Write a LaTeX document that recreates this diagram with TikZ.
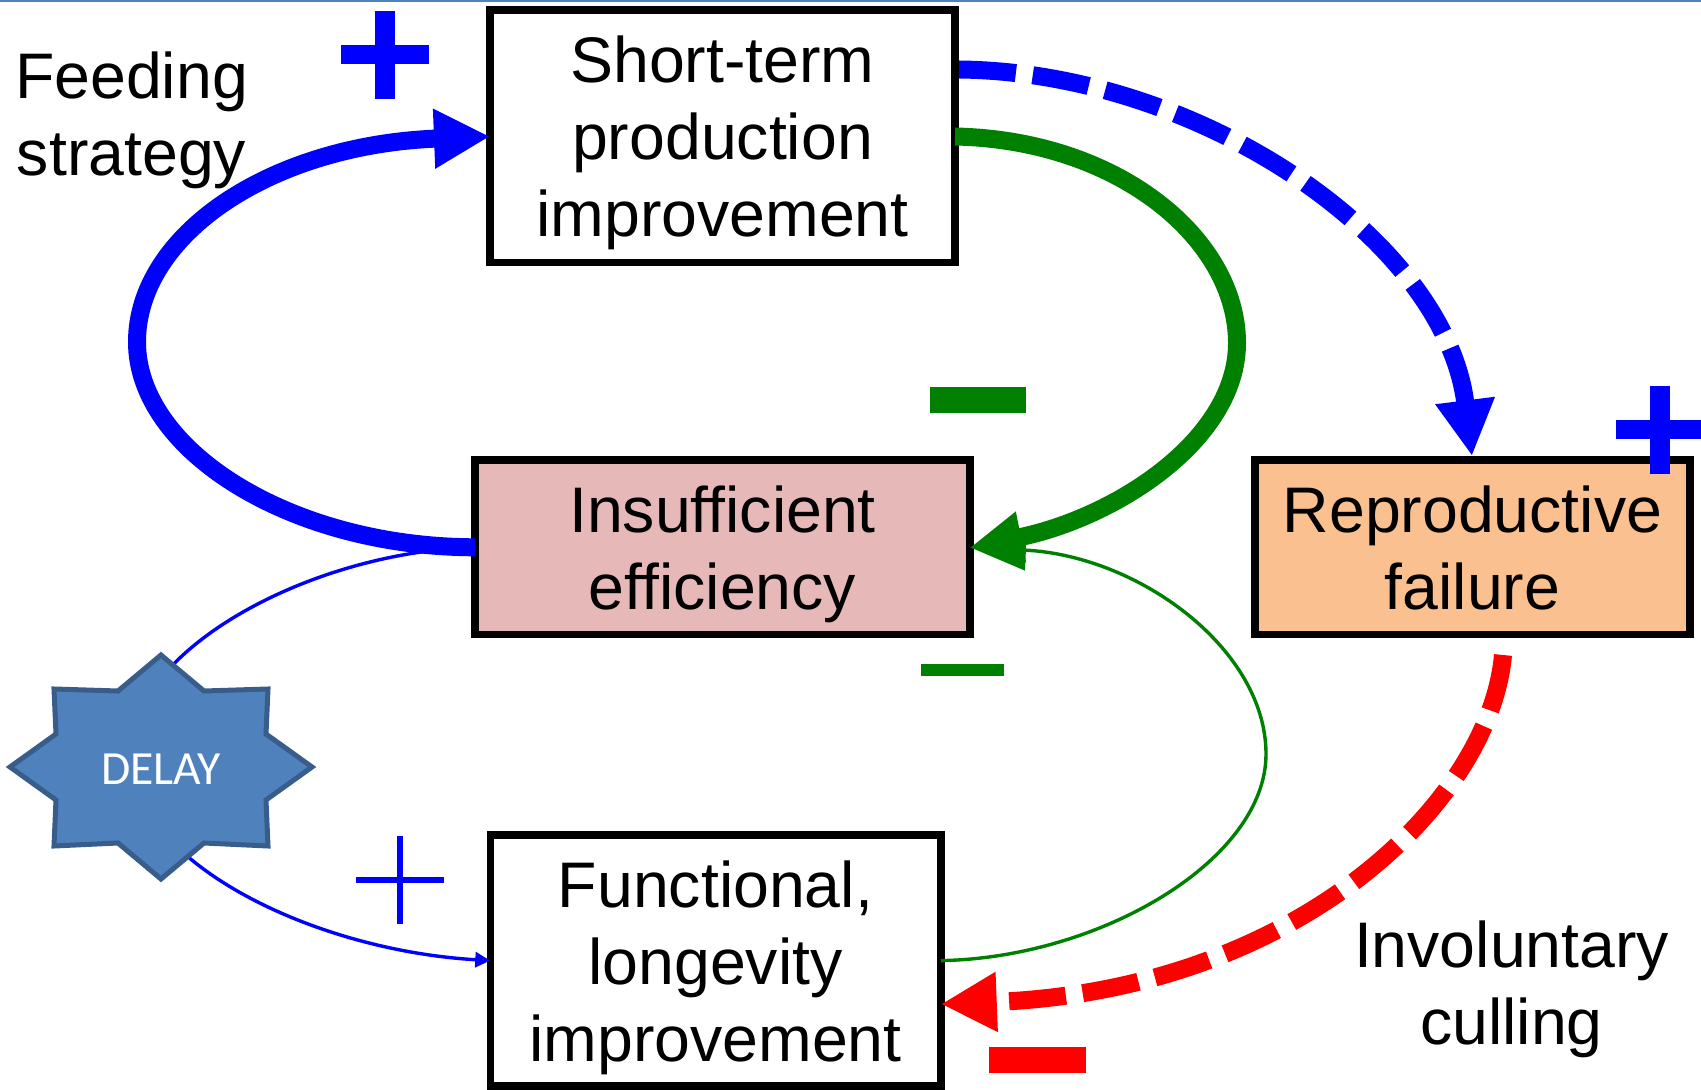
\documentclass[tikz,border=0pt]{standalone}
\usepackage{fontspec}
\setmainfont{Liberation Sans}
\newfontfamily\delayfont{Carlito}
\usetikzlibrary{arrows.meta}
\definecolor{loopgreen}{RGB}{0,128,0}
\definecolor{rowrule}{RGB}{79,129,189}
\definecolor{starfill}{RGB}{79,129,189}
\definecolor{starline}{RGB}{56,93,138}
\definecolor{rosefill}{RGB}{230,184,183}
\definecolor{peachfill}{RGB}{250,192,144}
\newcommand{\boxpad}[1]{\rule{0pt}{#1}}
\begin{document}
\begin{tikzpicture}[
  x=0.5pt, y=-0.5pt,
  bignode/.style={rectangle, draw=black, line width=3.75pt, outer sep=0pt, align=center, font=\fontsize{32.2pt}{38.5pt}\selectfont},
  lnode/.style={align=center, font=\fontsize{32.2pt}{38.5pt}\selectfont},
  arw/.style={-{Triangle[length=28pt, width=28pt]}},
  thickline/.style={line width=9pt},
  thinline/.style={line width=1.7pt},
  dashline/.style={line width=9pt, dash pattern=on 28.5pt off 8.5pt}
  ]

\useasboundingbox (0,0) rectangle (1701,1090);
\draw [color=rowrule, line width=1pt] (0,1) -- (1701,1);

% boxes

\node [bignode, minimum width=232.5pt, minimum height=126.25pt] (short) at (722.5,136.5) {\boxpad{30pt}Short-term\\production\\improvement};
\node [bignode, below of=short, node distance=205.4pt, fill=rosefill, minimum width=247.5pt, minimum height=87.25pt] (ineff) {\boxpad{30pt}Insufficient\\efficiency};
\node [bignode, right of=ineff, node distance=375pt, fill=peachfill, minimum width=217.5pt, minimum height=87.25pt] (repro) {\boxpad{24pt}Reproductive\\failure};
\node [bignode, below of=ineff, node distance=206.65pt, xshift=-3.5pt, minimum width=225.25pt, minimum height=125.5pt] (funct) {\boxpad{31pt}Functional,\\longevity\\improvement};

% free labels

\node [lnode] (feed) at (131.5,120) {Feeding\\strategy};
\node [lnode, below of=repro, node distance=221.2pt, xshift=19.5pt] (cull) {Involuntary\\culling};

\coordinate (leftbig) at (137,342);
\coordinate (rightbig) at (1237,343);
\coordinate (leftthin) at (130,754);
\coordinate (rightthin) at (1266,754);
\coordinate (cullstart) at (1503,655);

% thin loop

\draw [arw, thinline, color=blue, -{Triangle[length=7.5pt, width=7.5pt]}] (ineff.west) .. controls (310,552) and (130,650) .. (leftthin) .. controls (130,860) and (310,950) .. (funct.west);
\draw [arw, thinline, color=loopgreen, -{Triangle[length=28pt, width=20pt]}] (funct.east) .. controls (1100,958) and (1266,860) .. (rightthin) .. controls (1266,650) and (1140,556) .. (ineff.east);

% star

\draw [fill=starfill, draw=starline, line width=2.5pt, miter limit=10] (161,655) -- (204,691) -- (268,689) -- (266,734) -- (312,767) -- (266,800) -- (268,846) -- (204,843) -- (161,879) -- (118,843) -- (54,846) -- (56,800) -- (10,767) -- (56,734) -- (54,689) -- (118,691) -- cycle;
\node [color=white, font=\delayfont\fontsize{23.8pt}{27pt}\selectfont] (delay) at (161,769) {DELAY};

% thick loop

\draw [arw, thickline, color=blue] (ineff.west) .. controls (290,547) and (137,450) .. (leftbig) .. controls (137,235) and (270,145) .. (short.west);
\draw [thickline, color=loopgreen, -{Triangle[length=26pt, width=24pt]}] (short.east) .. controls (1120,140) and (1237,240) .. (rightbig) .. controls (1237,440) and (1115,518) .. (ineff.east);

% dashed

\draw [arw, dashline, color=blue, shorten >=2pt] ([xshift=2pt, yshift=33.5pt]short.east) .. controls (1200,72) and (1445,240) .. (repro.north);
\draw [arw, dashline, color=red] (cullstart) .. controls (1490,800) and (1300,990) .. ([yshift=-21.75pt]funct.east);

% signs

\fill [color=blue] (340.6,45) rectangle (429.4,64.3);
\fill [color=blue] (375.4,10.7) rectangle (395,99);
\fill [color=blue] (356,877) rectangle (444,883);
\fill [color=blue] (396.8,835.7) rectangle (403.2,924);
\fill [color=blue] (1616.4,420.3) rectangle (1701,439.3);
\fill [color=blue] (1650,385.7) rectangle (1670,474);
\fill [color=loopgreen] (929.6,387) rectangle (1025.7,412.7);
\fill [color=loopgreen] (921,663.7) rectangle (1004,676);
\fill [color=red] (989.4,1047) rectangle (1085.5,1072.7);

\end{tikzpicture}
\end{document}
